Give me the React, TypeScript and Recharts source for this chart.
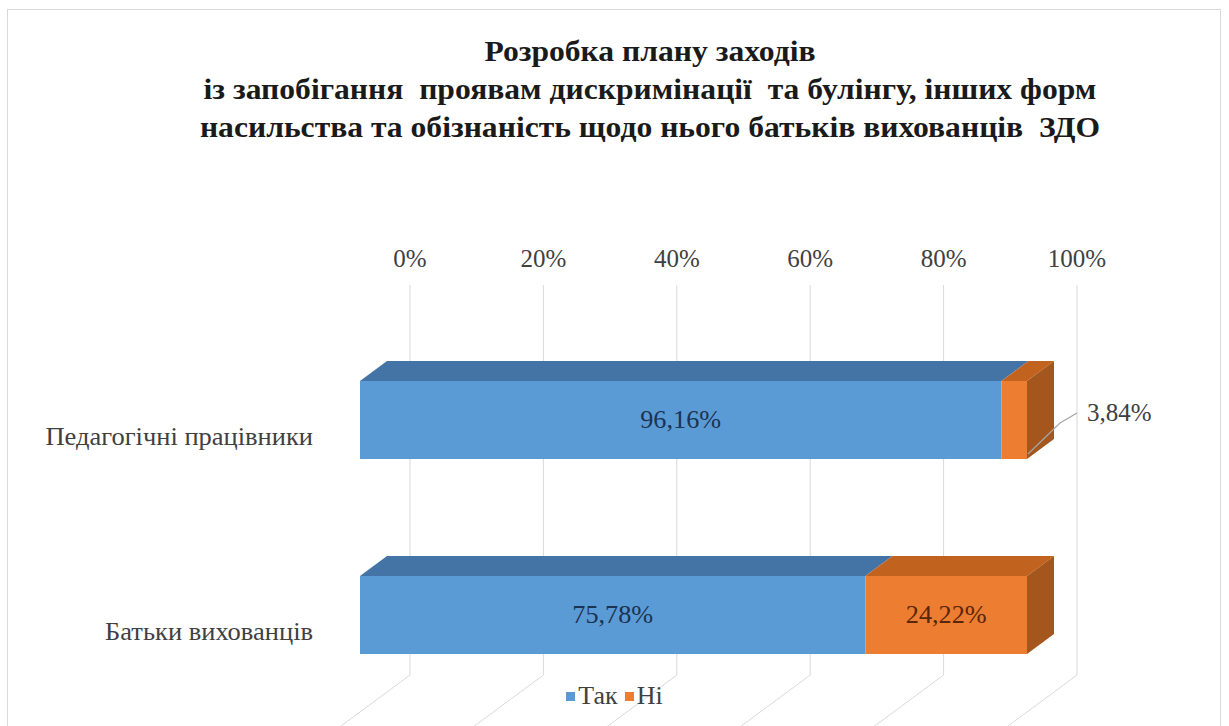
import React from 'react';
import { BarChart, Bar, XAxis, YAxis, CartesianGrid, LabelList, Legend } from 'recharts';

const categories = ['Педагогічні працівники', 'Батьки вихованців'];
const yesValues = [96.16, 75.78];
const noValues = [3.84, 24.22];
const xTicks = [0, 20, 40, 60, 80, 100];
const seriesNames = ['Так', 'Ні'];
const titleLines = [
  'Розробка плану заходів',
  'із запобігання  проявам дискримінації  та булінгу, інших форм',
  'насильства та обізнаність щодо нього батьків вихованців  ЗДО',
];

const data = categories.map((name, i) => ({ name, yes: yesValues[i], no: noValues[i] }));

const FONT = '"Liberation Serif"';
// offset of the bar front faces from the back wall
const DX = -50;
const DY = 37;
// bar depth
const BX = 27;
const BY = -20;

const COLORS = {
  yes: { front: '#5b9bd5', top: '#4474a6', side: '#3e6a97' },
  no: { front: '#ed7d31', top: '#c2621f', side: '#a5561c' },
};

const fmt = (v: number) => v.toFixed(2).replace('.', ',') + '%';

const T = ({ x, y, sx = 1, anchor = 'middle', size, fill, central = true, children }: any) => (
  <text transform={`translate(${x},${y}) scale(${sx},1)`} x={0} y={0} textAnchor={anchor}
    dominantBaseline={central ? 'central' : 'auto'} fontFamily="Liberation Serif" style={{ fontFamily: FONT }} fontSize={size} fill={fill}>
    {children}
  </text>
);

const make3D = (c: { front: string; top: string; side: string }, drawSide: boolean) => (props: any) => {
  const { x, y, width, height } = props;
  if (width == null || height == null) return <g />;
  const fx = x + DX;
  const fy = y + DY;
  const topPts = `${fx},${fy} ${fx + width},${fy} ${fx + width + BX},${fy + BY} ${fx + BX},${fy + BY}`;
  const sidePts = `${fx + width},${fy} ${fx + width + BX},${fy + BY} ${fx + width + BX},${fy + height + BY} ${fx + width},${fy + height}`;
  return (
    <g>
      <polygon points={topPts} fill={c.top} />
      {drawSide && <polygon points={sidePts} fill={c.side} />}
      <rect x={fx} y={fy} width={width} height={height} fill={c.front} />
    </g>
  );
};

const getBox = (p: any) => {
  const vb = p.viewBox || {};
  return { x: p.x ?? vb.x, y: p.y ?? vb.y, width: p.width ?? vb.width, height: p.height ?? vb.height };
};

const yesLabel = (p: any) => {
  const { x, y, width, height } = getBox(p);
  return (
    <T x={x + DX + width / 2} y={y + DY + height / 2} sx={1.05} size={25} fill="#1b3353">{fmt(Number(p.value))}</T>
  );
};

const noLabel = (p: any) => {
  const { x, y, width, height } = getBox(p);
  const v = Number(p.value);
  if (v < 10) {
    const sx = x + DX + width + 1;
    const sy = y + DY + height - 5;
    const ex = x + width;
    const ey = y + DY + height * 0.41;
    return (
      <g>
        <polyline points={`${sx},${sy} ${ex - 17},${ey + 10} ${ex},${ey}`} fill="none" stroke="#a6a6a6" strokeWidth={1.2} />
        <T x={ex + 10} y={ey} anchor="start" size={25} fill="#404040">{fmt(v)}</T>
      </g>
    );
  }
  return (
    <T x={x + DX + width / 2} y={y + DY + height / 2} sx={1.05} size={25} fill="#5a2608">{fmt(v)}</T>
  );
};

const gridLine = (p: any) => {
  const { x1, y1, y2 } = p;
  return (
    <path key={p.key ?? `g${x1}`} d={`M${x1},${y1} L${x1},${y2} L${x1 + DX * 2},${y2 + DY * 2}`}
      fill="none" stroke="#d9d9d9" strokeWidth={1} />
  );
};

const xTick = (p: any) => (
  <T x={p.x} y={p.y} central={false} size={25} fill="#404040">{p.payload.value}%</T>
);

const yTick = (p: any) => (
  <T x={p.x} y={p.y + 54} anchor="end" sx={1.06} size={25} fill="#404040">{p.payload.value}</T>
);

const legendContent = () => (
  <div style={{ height: 26, lineHeight: '26px', display: 'flex', justifyContent: 'center', alignItems: 'center', fontFamily: FONT, fontSize: 26, color: '#404040' }}>
    {seriesNames.map((n, i) => (
      <span key={n} style={{ display: 'inline-flex', alignItems: 'center', marginRight: i === 0 ? 7 : 0 }}>
        <span style={{ display: 'inline-block', width: 9, height: 9, background: i === 0 ? COLORS.yes.front : COLORS.no.front, marginRight: 3 }} />
        <span>{n}</span>
      </span>
    ))}
  </div>
);

export default function App() {
  return (
    <div style={{ position: 'absolute', left: 0, top: 0, width: 1229, height: 726, overflow: 'hidden', background: '#ffffff', fontFamily: FONT }}>
      <div style={{ position: 'absolute', left: 7, top: 9, width: 1214, height: 800, border: '1px solid #d9d9d9', boxSizing: 'border-box' }} />
      <div style={{ position: 'absolute', left: 0, top: 32, width: 1300, textAlign: 'center', fontFamily: FONT, fontWeight: 'bold', fontSize: 29, lineHeight: '38px', color: '#1a1a1a', whiteSpace: 'pre', transform: 'scaleX(1.09)', transformOrigin: '650px 0' }}>
        {titleLines.map((l) => (<div key={l}>{l}</div>))}
      </div>
      <div style={{ position: 'absolute', left: 0, top: 0 }}>
        <BarChart width={1229} height={726} data={data} layout="vertical" barSize={78}
          margin={{ top: 225, right: 152, bottom: 25, left: 0 }} style={{ fontFamily: FONT }}>
          <CartesianGrid horizontal={false} vertical={gridLine} />
          <XAxis type="number" domain={[0, 100]} ticks={xTicks} orientation="top" axisLine={false} tickLine={false}
            height={60} tickMargin={12} interval={0} tick={xTick} />
          <YAxis type="category" dataKey="name" width={410} axisLine={false} tickLine={false} tickMargin={91} tick={yTick} />
          <Legend content={legendContent} wrapperStyle={{ position: 'absolute', top: 683, left: 0, width: 1229, height: 26 }} />
          <Bar dataKey="yes" name="Так" stackId="a" isAnimationActive={false} shape={make3D(COLORS.yes, false)}>
            <LabelList dataKey="yes" content={yesLabel} />
          </Bar>
          <Bar dataKey="no" name="Ні" stackId="a" isAnimationActive={false} shape={make3D(COLORS.no, true)}>
            <LabelList dataKey="no" content={noLabel} />
          </Bar>
        </BarChart>
      </div>
    </div>
  );
}
